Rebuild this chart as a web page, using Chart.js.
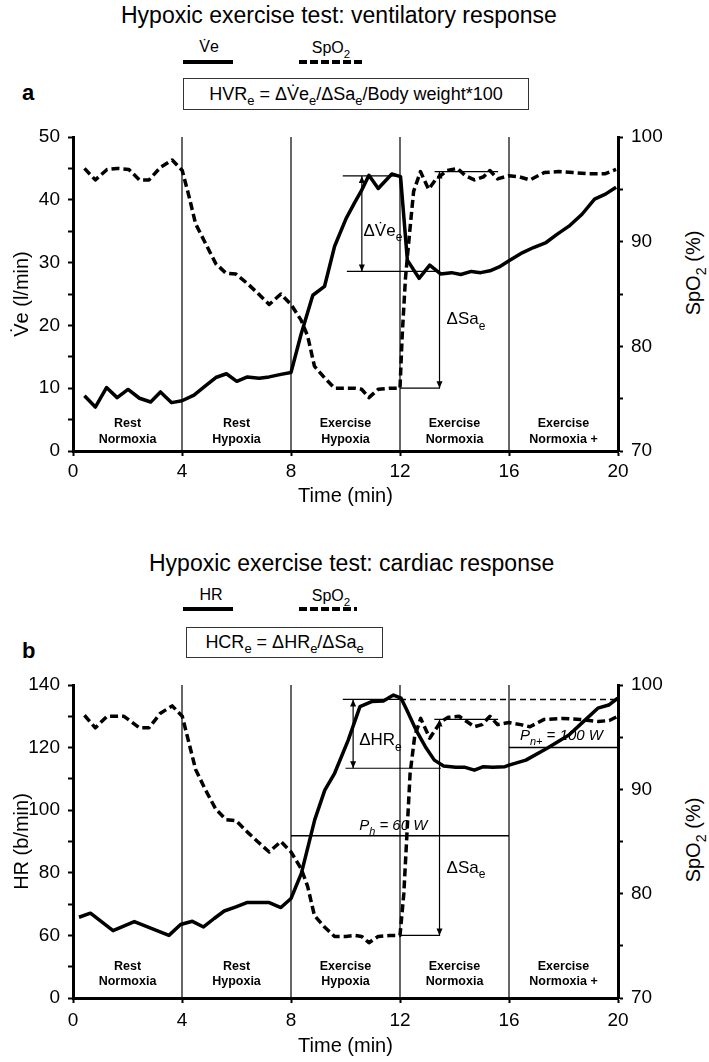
<!DOCTYPE html>
<html><head><meta charset="utf-8">
<script src="https://cdn.jsdelivr.net/npm/chart.js@4/dist/chart.umd.min.js"></script>
<style>
html,body{margin:0;padding:0;background:#fff;}
body{width:709px;height:1062px;position:relative;overflow:hidden;font-family:"Liberation Sans",Arial,sans-serif;color:#000;}
canvas{position:absolute;left:0;}
.t{position:absolute;white-space:nowrap;}
.title{font-size:23px;line-height:26px;}
.leg{font-size:16px;line-height:18px;text-align:center;}
.solid{position:absolute;height:3.5px;background:#000;}
.dash{position:absolute;height:3.5px;background:repeating-linear-gradient(90deg,#000 0 8px,transparent 8px 11px);}
.box{position:absolute;border:1.5px solid #333;font-size:18px;display:flex;align-items:center;justify-content:center;box-sizing:border-box;white-space:nowrap;}
.panel{font-size:22px;font-weight:bold;line-height:24px;}
.rtitle{font-size:20px;line-height:24px;width:120px;text-align:center;transform:rotate(-90deg);transform-origin:center center;}
sub{font-size:72%;vertical-align:-0.4em;line-height:0;}
</style>
</head>
<body>
<div class="t title" style="left:121px;top:2px;">Hypoxic exercise test: ventilatory response</div>
<div class="t leg" style="left:183px;top:38px;width:52px;">V&#775;e</div>
<div class="solid" style="left:183px;top:60px;width:50px;"></div>
<div class="t leg" style="left:299px;top:39px;width:64px;">SpO<sub>2</sub></div>
<div class="dash" style="left:299px;top:60px;width:64px;"></div>
<div class="t panel" style="left:22px;top:81px;">a</div>
<div class="box" style="left:183px;top:78px;width:346px;height:32px;"><span>HVR<sub>e</sub> = ΔV&#775;e<sub>e</sub>/ΔSa<sub>e</sub>/Body weight*100</span></div>
<div class="t rtitle" style="left:633px;top:261px;">SpO<sub>2</sub> (%)</div>

<div class="t title" style="left:149px;top:550px;">Hypoxic exercise test: cardiac response</div>
<div class="t leg" style="left:183px;top:586px;width:56px;">HR</div>
<div class="solid" style="left:183px;top:607px;width:50px;"></div>
<div class="t leg" style="left:299px;top:587px;width:64px;">SpO<sub>2</sub></div>
<div class="dash" style="left:299px;top:607px;width:58px;"></div>
<div class="t panel" style="left:22px;top:639px;">b</div>
<div class="box" style="left:186px;top:627px;width:197px;height:31px;"><span>HCR<sub>e</sub> = ΔHR<sub>e</sub>/ΔSa<sub>e</sub></span></div>
<div class="t rtitle" style="left:633px;top:828px;">SpO<sub>2</sub> (%)</div>

<canvas id="ca" width="709" height="520" style="top:0;"></canvas>
<canvas id="cb" width="709" height="522" style="top:540px;"></canvas>

<script>
// ---------- data ----------
const phaseBounds = [4, 8, 12, 16];
const phaseCenters = [2, 6, 10, 14, 18];
const phaseTop = ['Rest', 'Rest', 'Exercise', 'Exercise', 'Exercise'];
const phaseBottom = ['Normoxia', 'Hypoxia', 'Hypoxia', 'Normoxia', 'Normoxia +'];

const xTicks = [0, 4, 8, 12, 16, 20];
const veAxisTicks = [0, 5, 10, 15, 20, 25, 30, 35, 40, 45, 50];
const veAxisLabels = ['0', '', '10', '', '20', '', '30', '', '40', '', '50'];
const spoAxisTicks = [70, 75, 80, 85, 90, 95, 100];
const spoAxisLabels = ['70', '', '80', '', '90', '', '100'];
const hrAxisTicks = [40, 50, 60, 70, 80, 90, 100, 110, 120, 130, 140];
const hrAxisLabels = ['0', '', '60', '', '80', '', '100', '', '120', '', '140'];

// panel a: ventilation (l/min)
const veTime = [0.42,0.82,1.23,1.62,2.02,2.44,2.85,3.21,3.62,4.0,4.44,4.87,5.24,5.63,6.01,6.4,6.83,7.2,7.63,8.0,8.37,8.8,9.23,9.6,10.02,10.34,10.59,10.86,11.2,11.7,12.02,12.27,12.7,13.09,13.49,13.89,14.23,14.62,14.96,15.3,15.64,16.0,16.5,16.9,17.36,17.76,18.2,18.68,19.14,19.54,19.93];
const veValues = [8.8,7.0,10.1,8.5,9.8,8.4,7.8,9.4,7.7,8.0,8.9,10.4,11.7,12.3,11.1,11.8,11.6,11.8,12.2,12.5,18.6,24.8,26.2,32.6,37.0,39.6,41.5,43.9,41.8,44.1,43.7,30.4,27.5,29.6,28.2,28.4,28.1,28.6,28.4,28.7,29.3,30.3,31.6,32.4,33.2,34.5,35.8,37.7,40.1,40.9,42.0];
// panel a: SpO2 (%)
const spoATime = [0.42,0.82,1.25,1.62,2.05,2.44,2.79,3.21,3.64,4.01,4.26,4.5,4.87,5.24,5.61,5.98,6.4,6.77,7.2,7.63,8.0,8.37,8.61,8.86,9.23,9.6,10.02,10.34,10.59,10.86,11.2,11.63,12.0,12.08,12.2,12.35,12.5,12.75,13.05,13.3,13.72,14.11,14.4,14.73,15.07,15.3,15.58,16.0,16.37,16.77,17.29,17.82,18.35,18.88,19.54,19.93];
const spoAValues = [97.0,95.9,96.9,97.0,96.9,95.9,95.9,97.1,97.8,96.8,94.3,91.7,89.8,87.9,87.0,86.9,86.0,85.1,84.0,85.0,84.0,82.5,81.0,78.1,77.0,76.0,76.0,76.0,75.9,75.1,75.9,76.0,76.0,81.0,86.5,90.8,94.8,96.7,95.0,95.9,96.8,97.0,96.3,95.9,96.2,96.8,96.0,96.3,96.2,95.9,96.6,96.7,96.6,96.5,96.5,96.9];

// panel b: heart rate (b/min)
const hrTime = [0.22,0.64,1.47,2.25,3.52,3.95,4.38,4.79,5.18,5.55,5.98,6.38,6.77,7.2,7.63,8.0,8.38,8.87,9.24,9.6,10.1,10.53,10.96,11.39,11.76,12.04,12.25,12.59,12.93,13.26,13.6,14.05,14.39,14.73,15.06,15.4,15.85,16.0,16.62,17.4,18.2,18.73,19.26,19.66,19.99];
const hrValues = [65.8,67.1,61.5,64.4,60.0,63.5,64.5,62.7,65.4,67.8,69.1,70.5,70.5,70.5,68.9,71.8,79.8,96.9,106.4,111.8,122.4,133.1,134.7,134.9,136.8,135.8,132.0,125.6,120.3,116.0,114.1,113.7,113.7,112.8,113.9,113.7,113.9,114.4,116.0,119.8,124.0,128.3,132.6,133.6,135.8];
// panel b: SpO2 (%)
const spoBTime = [0.42,0.82,1.25,1.87,2.44,2.79,3.21,3.64,4.01,4.26,4.5,4.87,5.24,5.61,5.98,6.4,6.77,7.2,7.63,8.0,8.37,8.61,8.86,9.23,9.6,10.02,10.34,10.59,10.86,11.2,11.63,12.0,12.14,12.25,12.37,12.54,12.76,13.09,13.5,13.77,14.17,14.45,14.73,15.01,15.3,15.58,16.0,16.43,16.77,17.29,17.96,18.62,19.28,19.68,19.99];
const spoBValues = [97.1,95.9,97.0,97.0,95.9,95.9,97.3,98.0,97.0,94.4,91.9,89.9,88.1,87.1,87.0,85.9,85.0,84.0,85.0,84.0,82.4,80.7,77.9,76.8,75.9,75.9,76.0,75.9,75.3,75.9,76.0,76.0,80.0,85.5,91.5,95.1,96.8,94.9,96.5,96.9,97.0,96.5,96.0,96.2,97.0,96.2,96.4,96.2,96.0,96.7,96.8,96.7,96.5,96.6,97.0];

// response markers (data units)
const veHigh = 43.8, veLow = 28.6;          // ΔV̇e levels
const saHigh = 96.7, saLow = 76.0;          // ΔSa levels
const hrHigh = 135.4, hrLow = 113.4;        // ΔHR levels
const powerHypoxia = 91.8, powerNormoxia = 120.0; // workload markers (drawn on HR axis)

// ---------- helpers ----------
const FONT = '"Liberation Sans", Arial, sans-serif';
Chart.defaults.font.family = FONT;
Chart.defaults.color = '#000';

const pts = (ts, vs) => ts.map((t, i) => ({x: t, y: vs[i]}));
const guide = (data, axis, extra) => Object.assign({
  data, yAxisID: axis, borderColor: '#000', borderWidth: 1.2, pointRadius: 0,
  fill: false, tension: 0, borderCapStyle: 'butt'
}, extra || {});
const mainLine = (data, axis, dashed) => ({
  data, yAxisID: axis, borderColor: '#000', borderWidth: 3.5, pointRadius: 0,
  fill: false, tension: 0, borderJoinStyle: 'round', borderCapStyle: 'butt',
  borderDash: dashed ? [8, 4] : []
});

const arrowPlugin = {
  id: 'arrows',
  afterDatasetsDraw(chart) {
    const ctx = chart.ctx;
    chart.data.datasets.forEach((ds, i) => {
      if (!ds.arrows) return;
      const p = chart.getDatasetMeta(i).data;
      if (p.length < 2) return;
      const head = (tip, from) => {
        const dx = tip.x - from.x, dy = tip.y - from.y;
        const L = Math.hypot(dx, dy) || 1, ux = dx / L, uy = dy / L;
        const len = 7, w = 3;
        ctx.beginPath();
        ctx.moveTo(tip.x, tip.y);
        ctx.lineTo(tip.x - ux * len - uy * w, tip.y - uy * len + ux * w);
        ctx.lineTo(tip.x - ux * len + uy * w, tip.y - uy * len - ux * w);
        ctx.closePath();
        ctx.fill();
      };
      ctx.save();
      ctx.fillStyle = '#000';
      head(p[p.length - 1], p[0]);
      if (ds.arrows === 'both') head(p[0], p[p.length - 1]);
      ctx.restore();
    });
  }
};

const notesPlugin = {
  id: 'notes',
  beforeDatasetsDraw(chart, args, opts) {
    const ctx = chart.ctx, xs = chart.scales.x;
    ctx.save();
    ctx.fillStyle = '#000';
    ctx.textAlign = 'left';
    (opts.items || []).forEach(it => {
      const ys = chart.scales[it.axis || 'y'];
      let px = xs.getPixelForValue(it.x);
      const py = ys.getPixelForValue(it.y);
      const size = it.size || 17, style = it.style || 'normal';
      const fontFor = sub => `${style} ${sub ? Math.round(size * 0.72) : size}px ${FONT}`;
      ctx.textBaseline = it.baseline || 'alphabetic';
      let total = 0;
      it.parts.forEach(p => { ctx.font = fontFor(p.sub); total += ctx.measureText(p.t).width; });
      if (it.align === 'center') px -= total / 2;
      it.parts.forEach(p => {
        ctx.font = fontFor(p.sub);
        ctx.fillText(p.t, px, py + (p.sub ? size * 0.32 : 0));
        px += ctx.measureText(p.t).width;
      });
    });
    ctx.restore();
  }
};

const fromList = (list) => (s) => { s.ticks = list.map(v => ({value: v})); };
const labelsFrom = (labels) => (v, i) => labels[i];

function xScale(height, tickPad, titlePad) {
  return {
    type: 'linear', min: 0, max: 20,
    afterBuildTicks: fromList(xTicks),
    ticks: {font: {size: 19}, color: '#000', padding: tickPad, autoSkip: false, maxRotation: 0},
    grid: {drawOnChartArea: false, color: '#000', tickLength: 5, tickWidth: 2},
    border: {color: '#000', width: 3},
    title: {display: true, text: 'Time (min)', font: {size: 20}, color: '#000', padding: {top: 0, bottom: titlePad}},
    afterFit: s => { s.height = height; }
  };
}
function yScale(pos, min, max, ticks, labels, width, title) {
  return {
    type: 'linear', position: pos, min, max,
    afterBuildTicks: fromList(ticks),
    ticks: {font: {size: 19}, color: '#000', padding: 8, autoSkip: false, callback: labelsFrom(labels)},
    grid: {drawOnChartArea: false, color: '#000', tickLength: 5, tickWidth: 2},
    border: {color: '#000', width: 3},
    title: title ? {display: true, text: title, font: {size: 20}, color: '#000', padding: {top: 10, bottom: 0}} : {display: false},
    afterFit: s => { s.width = width; }
  };
}
function phaseNotes(yTop, yBottom) {
  const items = [];
  phaseCenters.forEach((c, i) => {
    items.push({x: c, y: yTop, parts: [{t: phaseTop[i]}], style: 'bold', size: 12.5, align: 'center', baseline: 'middle'});
    items.push({x: c, y: yBottom, parts: [{t: phaseBottom[i]}], style: 'bold', size: 12.5, align: 'center', baseline: 'middle'});
  });
  return items;
}
const regionLines = (lo, hi) => phaseBounds.map(b => guide([{x: b, y: lo}, {x: b, y: hi}], 'y'));

// ---------- chart a ----------
new Chart(document.getElementById('ca'), {
  type: 'line',
  data: {
    datasets: [
      ...regionLines(0, 50),
      guide([{x: 9.9, y: veHigh}, {x: 12.0, y: veHigh}], 'y'),
      guide([{x: 10.05, y: veLow}, {x: 13.47, y: veLow}], 'y'),
      guide([{x: 10.6, y: veHigh}, {x: 10.6, y: veLow}], 'y', {arrows: 'both'}),
      guide([{x: 13.27, y: saHigh}, {x: 15.6, y: saHigh}], 'y2'),
      guide([{x: 12.0, y: saLow}, {x: 13.47, y: saLow}], 'y2'),
      guide([{x: 13.45, y: saHigh}, {x: 13.45, y: saLow}], 'y2', {arrows: 'both'}),
      mainLine(pts(spoATime, spoAValues), 'y2', true),
      mainLine(pts(veTime, veValues), 'y', false)
    ]
  },
  options: {
    responsive: false, animation: false, devicePixelRatio: 1,
    layout: {padding: {top: 137, left: 0, right: 0, bottom: 0}},
    plugins: {
      legend: {display: false}, tooltip: {enabled: false},
      notes: {items: [
        ...phaseNotes(4.3, 1.9),
        {x: 10.66, y: 34.3, parts: [{t: 'ΔV\u0307e'}, {t: 'e', sub: true}], size: 17},
        {x: 13.71, y: 82.1, axis: 'y2', parts: [{t: 'ΔSa'}, {t: 'e', sub: true}], size: 17}
      ]}
    },
    scales: {
      x: xScale(69, 4, 12),
      y: yScale('left', 0, 50, veAxisTicks, veAxisLabels, 73, 'V\u0307e (l/min)'),
      y2: yScale('right', 70, 100, spoAxisTicks, spoAxisLabels, 91, null)
    }
  },
  plugins: [notesPlugin, arrowPlugin]
});

// ---------- chart b ----------
new Chart(document.getElementById('cb'), {
  type: 'line',
  data: {
    datasets: [
      ...regionLines(40, 140),
      guide([{x: 8, y: powerHypoxia}, {x: 16, y: powerHypoxia}], 'y', {borderWidth: 1.5}),
      guide([{x: 16, y: powerNormoxia}, {x: 20, y: powerNormoxia}], 'y', {borderWidth: 1.5}),
      guide([{x: 9.9, y: hrHigh}, {x: 12.0, y: hrHigh}], 'y'),
      guide([{x: 12.0, y: hrHigh}, {x: 20, y: hrHigh}], 'y', {borderDash: [6, 4], borderWidth: 1.5}),
      guide([{x: 10.0, y: hrLow}, {x: 13.5, y: hrLow}], 'y'),
      guide([{x: 10.28, y: hrHigh}, {x: 10.28, y: hrLow}], 'y', {arrows: 'both'}),
      guide([{x: 13.26, y: saHigh}, {x: 15.6, y: saHigh}], 'y2'),
      guide([{x: 12.0, y: saLow}, {x: 13.47, y: saLow}], 'y2'),
      guide([{x: 13.45, y: saHigh}, {x: 13.45, y: saLow}], 'y2', {arrows: 'both'}),
      mainLine(pts(spoBTime, spoBValues), 'y2', true),
      mainLine(pts(hrTime, hrValues), 'y', false)
    ]
  },
  options: {
    responsive: false, animation: false, devicePixelRatio: 1,
    layout: {padding: {top: 145, left: 0, right: 0, bottom: 0}},
    plugins: {
      legend: {display: false}, tooltip: {enabled: false},
      notes: {items: [
        ...phaseNotes(50, 45.2),
        {x: 10.5, y: 120.8, parts: [{t: 'ΔHR'}, {t: 'e', sub: true}], size: 17},
        {x: 13.71, y: 82.0, axis: 'y2', parts: [{t: 'ΔSa'}, {t: 'e', sub: true}], size: 17},
        {x: 10.5, y: 93.7, parts: [{t: 'P'}, {t: 'h', sub: true}, {t: ' = 60 W'}], size: 15, style: 'italic'},
        {x: 16.4, y: 122.4, parts: [{t: 'P'}, {t: 'n+', sub: true}, {t: ' = 100 W'}], size: 15, style: 'italic'}
      ]}
    },
    scales: {
      x: xScale(64, 6, 4),
      y: yScale('left', 40, 140, hrAxisTicks, hrAxisLabels, 73, 'HR (b/min)'),
      y2: yScale('right', 70, 100, spoAxisTicks, spoAxisLabels, 91, null)
    }
  },
  plugins: [notesPlugin, arrowPlugin]
});
</script>
</body></html>
